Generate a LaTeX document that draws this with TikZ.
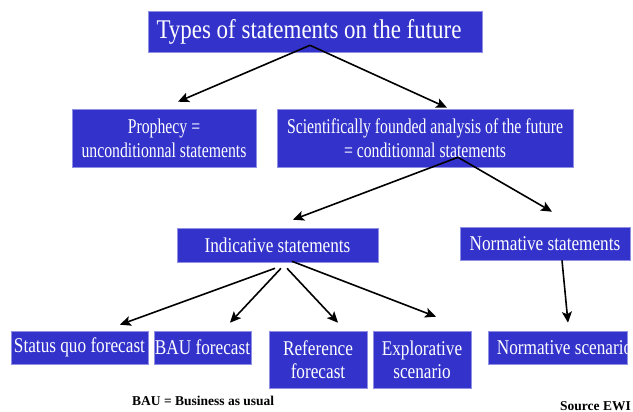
\documentclass[tikz,border=0pt]{standalone}
\usepackage{fontspec}
\setmainfont{Liberation Serif}
\newfontfamily\boxfontA{Liberation Serif}[FakeStretch=0.82]
\newfontfamily\boxfontB{Liberation Serif}[FakeStretch=0.75]
\newfontfamily\titlefontX{Liberation Serif}[FakeStretch=0.85]
\usetikzlibrary{arrows.meta,calc}
\definecolor{boxblue}{HTML}{3333CC}
\tikzset{
  bluebox/.style={fill=boxblue, draw=boxblue!55!white, line width=0.6pt, text=white, inner sep=0pt, align=center},
  fa/.style={font=\boxfontA\fontsize{21}{23}\selectfont},
  fb/.style={font=\boxfontB\fontsize{21}{24}\selectfont},
  conn/.style={line width=1.6pt, -{Stealth[length=11pt,width=10pt,inset=2.5pt]}},
  note/.style={font=\bfseries\fontsize{13.5}{15}\selectfont, inner sep=0pt}
}
\begin{document}
\begin{tikzpicture}[x=1pt,y=-1pt]
\useasboundingbox (0,0) rectangle (633,412);
\fill[white] (0,0) rectangle (633,412);
% boxes
\node[bluebox, minimum width=334pt, minimum height=41pt, font=\titlefontX\fontsize{27}{30}\selectfont] (title) at (315,31.5) {Types of statements on the future\hspace*{12pt}};
\node[bluebox, fb, minimum width=184pt, minimum height=58pt] (proph) at (164,138) {Prophecy =\\unconditionnal statements};
\node[bluebox, fb, minimum width=296pt, minimum height=58pt] (sci) at (425,138) {Scientifically founded analysis of the future\\= conditionnal statements};
\node[bluebox, fa, minimum width=201pt, minimum height=34pt] (ind) at (277.5,245) {Indicative statements};
\node[bluebox, fa, minimum width=170pt, minimum height=33pt] (norm) at (545,243.5) {Normative statements};
\node[bluebox, fa, minimum width=137pt, minimum height=33pt] (sq) at (79.5,347.5) {Status quo forecast};
\node[bluebox, fa, minimum width=97pt, minimum height=33pt] (bau) at (202.5,347.5) {BAU forecast};
\node[bluebox, fa, minimum width=98pt, minimum height=57pt] (ref) at (318,359.5) {Reference\\forecast};
\node[bluebox, fa, minimum width=98pt, minimum height=57pt] (exp) at (422,359.5) {Explorative\\scenario};
\node[bluebox, minimum width=139pt, minimum height=33pt] (nsc) at (557.5,347.5) {};
\node[fa, text=white, inner sep=0pt, anchor=west] (nsctext) at ($(nsc.west)+(9,0)$) {Normative scenario};
% notes
\node[note, anchor=base west] (bauNote) at (132,405) {BAU = Business as usual};
\node[note, anchor=base west] (srcNote) at (560,410) {Source EWI};
% connectors
\draw[conn] ($(title.south)+(-5,-7)$) -- ($(proph.north)+(14,-7)$);
\draw[conn] ($(title.south)+(-5,-7)$) -- ($(sci.north)+(22,-1)$);
\draw[conn] ($(sci.south)+(33,-10)$) -- ($(ind.north)+(15.5,-8)$);
\draw[conn] ($(sci.south)+(33,-10)$) -- ($(norm.north)+(7,-15)$);
\draw[conn] ($(ind.south)+(-2.5,6)$) -- ($(sq.north)+(40.5,-6)$);
\draw[conn] ($(ind.south)+(3.5,6)$) -- ($(bau.north)+(27.5,-8)$);
\draw[conn] ($(ind.south)+(9.5,6)$) -- ($(ref.north)+(20,-8)$);
\draw[conn] ($(ind.south)+(14.5,-1)$) -- ($(exp.north)+(14,-14)$);
\draw[conn] ($(norm.south)+(17,0)$) -- ($(nsc.north)+(10.5,-8)$);
\end{tikzpicture}
\end{document}
